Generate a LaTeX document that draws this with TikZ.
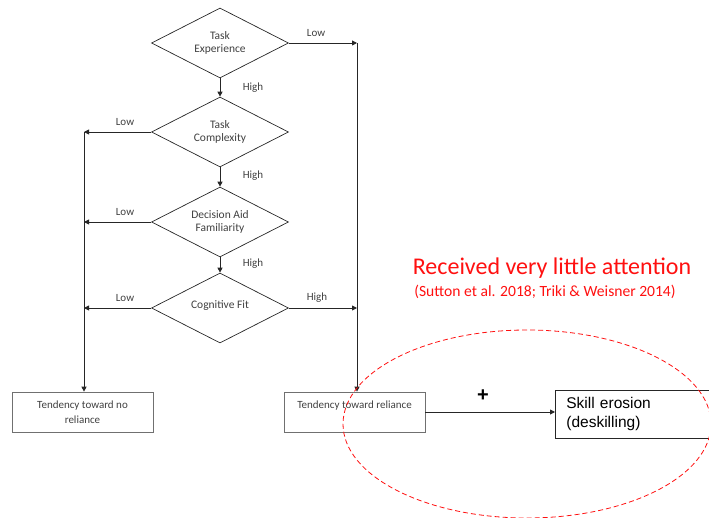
\documentclass[tikz,border=0pt]{standalone}
\usepackage{fontspec}
\setmainfont{Carlito}
\newfontfamily\arialfont{Liberation Sans}
\usetikzlibrary{shapes.geometric,arrows.meta,calc}
\definecolor{ink}{HTML}{262626}
\definecolor{txt}{HTML}{404040}
\definecolor{boxline}{HTML}{707070}
\definecolor{hot}{HTML}{FF1010}
\tikzset{
  decision/.style={diamond, shape aspect=2, draw=ink, line width=0.7pt, inner sep=0pt,
    minimum width=137pt, minimum height=70pt, text=txt,
    font=\fontsize{11.5}{13.5}\selectfont, align=center},
  outcome/.style={rectangle, draw=boxline, line width=0.7pt,
    minimum width=141pt, minimum height=40pt, text=txt,
    font=\fontsize{11}{15}\selectfont, align=center},
  flow/.style={draw=ink, line width=0.9pt, -{Triangle[length=5pt,width=5pt]}},
  branch/.style={text=txt, font=\fontsize{11}{13}\selectfont},
}
\begin{document}
\begin{tikzpicture}[x=1pt,y=-1pt]
\useasboundingbox (0,0) rectangle (709,518);

% decision chain
\node[decision] (te)  at (220,43)  {Task\\Experience};
\node[decision] (tc)  at (220,132) {Task\\Complexity};
\node[decision] (daf) at (220,222) {Decision Aid\\Familiarity};
\node[decision] (cf)  at (220,308) {\raisebox{7pt}{Cognitive Fit}};

% outcome boxes
\node[outcome] (nrel) at (82.5,412) {Tendency toward no\\reliance};
\node[outcome] (rel) at (354.5,412) {Tendency toward reliance\\\mbox{}};

% skill erosion box (runs off the right edge)
\node[rectangle, draw=ink, line width=0.8pt, anchor=west,
      minimum width=160pt, minimum height=48pt, inner xsep=11pt,
      text width=138pt, align=left,
      font=\arialfont\fontsize{15.5}{18.5}\selectfont] (skill) at (555,414)
      {Skill erosion\\(deskilling)};

% junction points on the side rails
\coordinate (rtop) at (357,43);
\coordinate (rcf)  at (357,308);
\coordinate (l1) at (84,132);
\coordinate (l2) at (84,222);
\coordinate (l3) at (84,308);

% main path: High answers go down
\draw[flow] (te.south) -- (tc.north);
\draw[flow] (tc.south) -- (daf.north);
\draw[flow] (daf.south) -- (cf.north);

% right rail
\draw[flow] (te.east) -- (rtop);
\draw[flow] (cf.east) -- (rcf);
\draw[flow] (rtop) -- (rtop |- rel.north);

% left rail
\draw[flow] (tc.west) -- (l1);
\draw[flow] (daf.west) -- (l2);
\draw[flow] (cf.west) -- (l3);
\draw[flow] (l1) -- (l1 |- nrel.north);

% reliance leads to skill erosion
\draw[flow] (rel.east) -- (rel.east -| skill.west);
\node[font=\arialfont\bfseries\fontsize{20}{20}\selectfont] (plus) at (483,396) {+};

% branch labels
\node[branch] (lowte)  at (316,33)  {Low};
\node[branch] (highte) at (253,88)  {High};
\node[branch] (lowtc)  at (125,122) {Low};
\node[branch] (hightc) at (253,176) {High};
\node[branch] (lowdaf) at (125,212) {Low};
\node[branch] (highdaf) at (253,264) {High};
\node[branch] (lowcf)  at (125,298) {Low};
\node[branch] (highcf) at (317,298) {High};

% annotation
\node[text=hot, font=\fontsize{24}{28}\selectfont] (note) at (552,268) {Received very little attention};
\node[text=hot, font=\fontsize{15.6}{18}\selectfont] (cite) at (545,292) {(Sutton et al. 2018; Triki \& Weisner 2014)};

\draw[hot, line width=0.8pt, dash pattern=on 5pt off 3pt]
  (527,424) ellipse [x radius=184pt, y radius=94pt];
\end{tikzpicture}
\end{document}
